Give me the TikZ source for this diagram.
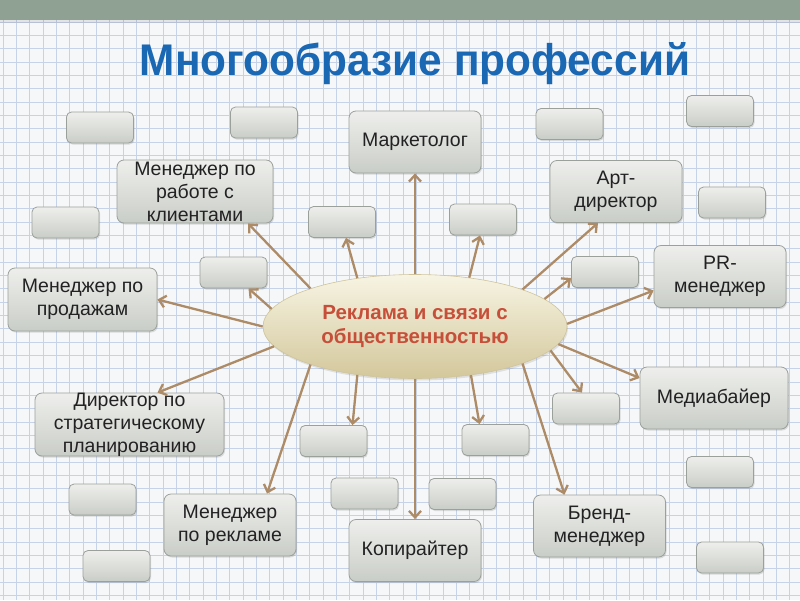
\documentclass[tikz,border=0pt]{standalone}
\usepackage{graphicx}
\usepackage{fontspec}
\setmainfont{Liberation Sans}
\usetikzlibrary{shapes.geometric,arrows.meta,shadows}
\definecolor{bgc}{HTML}{F6F7F9}
\definecolor{gridc}{HTML}{C6D2E8}
\definecolor{barc}{HTML}{8EA192}
\definecolor{titlec}{HTML}{1A67B3}
\definecolor{boxtop}{HTML}{EEEFEC}
\definecolor{boxbot}{HTML}{C9CDC7}
\definecolor{boxline}{HTML}{9CA09B}
\definecolor{ellt}{HTML}{F7F4E3}
\definecolor{ellm}{HTML}{EDE7C8}
\definecolor{ellb}{HTML}{D3C79B}
\definecolor{ellline}{HTML}{CFC49C}
\definecolor{arrc}{HTML}{AD8B66}
\definecolor{redt}{HTML}{C74F3A}
\definecolor{txt}{HTML}{222222}
\tikzset{
  pbox/.style={draw=boxline, line width=0.8pt, rounded corners=7pt, top color=boxtop, bottom color=boxbot,
    minimum width=132pt, minimum height=62pt, inner sep=0pt,
    drop shadow={shadow xshift=1pt, shadow yshift=-1.5pt, opacity=0.25}},
  ebox/.style={pbox, minimum width=67pt, minimum height=31pt, rounded corners=5pt},
  ptext/.style={text=txt, font=\fontsize{19.5}{23}\selectfont, align=center, inner sep=0pt},
  ell/.style={ellipse, draw=ellline, line width=0.6pt, top color=ellt, middle color=ellm, bottom color=ellb,
    minimum width=304pt, minimum height=104pt, inner sep=0pt, text=redt,
    font=\fontsize{20.5}{24}\selectfont\bfseries, align=center,
    drop shadow={shadow xshift=1pt, shadow yshift=-2pt, opacity=0.2}},
  arr/.style={draw=arrc, line width=2.3pt, -{Straight Barb[length=6.5pt,width=12pt]}},
  gridline/.style={draw=gridc, line width=0.7pt},
  ttl/.style={anchor=base, inner sep=0pt}
}
\begin{document}
\begin{tikzpicture}[x=1pt,y=-1pt]
\useasboundingbox (0,0) rectangle (800,600);
\fill[bgc] (0,0) rectangle (800,600);
\foreach \i in {0,...,60} \draw[gridline] (\i*13.333+3,20) -- (\i*13.333+3,600);
\foreach \j in {0,...,44} \draw[gridline] (0,\j*13.333+22) -- (800,\j*13.333+22);
\fill[barc] (0,0) rectangle (800,20);
\fill[black,opacity=0.08] (0,20) rectangle (800,23);

% title
\node[ttl, text=titlec] (title) at (415,75) {\resizebox{550pt}{33pt}{\bfseries Многообразие профессий}};

% empty boxes
\node[ebox] (e1) at (100,127.5) {};
\node[ebox] (e2) at (264,122.5) {};
\node[ebox] (e3) at (65.5,222.5) {};
\node[ebox] (e4) at (233.5,272.5) {};
\node[ebox] (e5) at (569.5,124) {};
\node[ebox] (e6) at (720,111) {};
\node[ebox] (e7) at (732,202.5) {};
\node[ebox] (e8) at (605,272) {};
\node[ebox] (e9) at (342,222) {};
\node[ebox] (e10) at (483,219.5) {};
\node[ebox] (e11) at (586,408.5) {};
\node[ebox] (e12) at (720,472) {};
\node[ebox] (e13) at (102.5,499.5) {};
\node[ebox] (e14) at (116.5,566) {};
\node[ebox] (e15) at (333.5,441) {};
\node[ebox] (e16) at (495.5,440) {};
\node[ebox] (e17) at (364.5,493.5) {};
\node[ebox] (e18) at (462.5,494) {};
\node[ebox] (e19) at (730,557.5) {};

% profession boxes
\node[pbox] (mk) at (415,142) {};
\node[ptext] (mkt) at (mk) {Маркетолог};
\node[pbox, minimum width=156pt, minimum height=63pt] (cl) at (195,191.5) {};
\node[ptext] (clt) at (cl) {Менеджер по\\работе с\\клиентами};
\node[pbox] (ar) at (616,191.5) {};
\node[ptext] (art) at (ar) {Арт-\\директор};
\node[pbox, minimum width=149pt, minimum height=63pt] (pr) at (82.5,299.5) {};
\node[ptext] (prt) at (pr) {Менеджер по\\продажам};
\node[pbox] (pm) at (720,276.5) {};
\node[ptext] (pmt) at (pm) {PR-\\менеджер};
\node[pbox, minimum width=148pt] (md) at (714,398) {};
\node[ptext] (mdt) at (md) {Медиабайер};
\node[pbox, minimum width=189pt, minimum height=63pt] (dr) at (129.5,424.5) {};
\node[ptext] (drt) at (dr) {Директор по\\стратегическому\\планированию};
\node[pbox] (rk) at (230,525) {};
\node[ptext] (rkt) at (rk) {Менеджер\\по рекламе};
\node[pbox] (kp) at (415,550.5) {};
\node[ptext] (kpt) at (kp) {Копирайтер};
\node[pbox] (br) at (599.5,526) {};
\node[ptext] (brt) at (br) {Бренд-\\менеджер};

% centre
\node[ell] (c) at (415,326.5) {Реклама и связи с\\общественностью};

% connectors
\draw[arr] (c.90) -- (mk.south);
\draw[arr] (c.140) -- ([xshift=4pt]e9.south);
\draw[arr] (c.42) -- ([xshift=-3pt]e10.south);
\draw[arr] (c.160) -- ([xshift=53pt]cl.south);
\draw[arr] (c.173) -- ([xshift=15pt]e4.south);
\draw[arr] (c.180) -- (pr.east);
\draw[arr] (c.188) -- ([xshift=28pt]dr.north);
\draw[arr] (c.200) -- ([xshift=37pt]rk.north);
\draw[arr] (c.220) -- ([xshift=19pt]e15.north);
\draw[arr] (c.270) -- (kp.north);
\draw[arr] (c.319) -- ([xshift=-16pt]e16.north);
\draw[arr] (c.341) -- ([xshift=-35pt]br.north);
\draw[arr] (c.350) -- ([xshift=-4pt]e11.north);
\draw[arr] (c.353) -- ([yshift=20pt]md.west);
\draw[arr] (c.1) -- ([yshift=-14pt]pm.west);
\draw[arr] (c.12) -- ([yshift=-6pt]e8.west);
\draw[arr] (c.19) -- ([xshift=-18pt]ar.south);
\end{tikzpicture}
\end{document}
